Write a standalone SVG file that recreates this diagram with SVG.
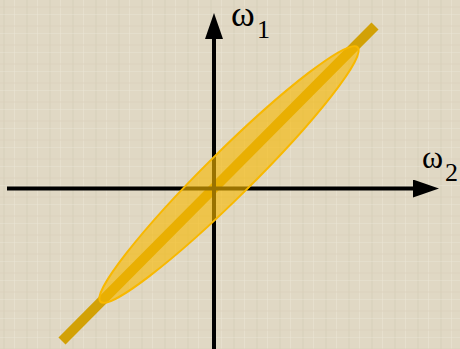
<svg xmlns="http://www.w3.org/2000/svg" width="460" height="349" viewBox="0 0 460 349">
  <defs>
    <pattern id="tex" width="23" height="19" patternUnits="userSpaceOnUse">
      <rect width="23" height="19" fill="#e0d8c4"/>
      <rect x="3" width="2" height="19" fill="#d5ccb6" opacity="0.4"/>
      <rect x="14" width="1" height="19" fill="#ebe5d5" opacity="0.5"/>
      <rect y="6" width="23" height="2" fill="#d8cfb9" opacity="0.35"/>
      <rect y="14" width="23" height="1" fill="#ece6d7" opacity="0.4"/>
    </pattern>
    <marker id="ah" viewBox="0 0 26 18" refX="0" refY="9" markerWidth="26" markerHeight="18" markerUnits="userSpaceOnUse" orient="auto">
      <path d="M0,0 L26,9 L0,18 Z" fill="#000"/>
    </marker>
    <style>
      .axis { stroke:#000; stroke-width:4; fill:none; }
      .lbl { font-family:"Liberation Serif","Times New Roman",serif; fill:#000; }
    </style>
  </defs>
  <rect width="460" height="349" fill="url(#tex)"/>
  <g id="connectors">
    <line id="diag" x1="62" y1="341" x2="375" y2="26" stroke="#d2a106" stroke-width="10"/>
    <line class="axis" x1="214" y1="349" x2="214" y2="39" marker-end="url(#ah)"/>
    <line class="axis" x1="7" y1="188.5" x2="413" y2="188.5" marker-end="url(#ah)"/>
  </g>
  <g id="ellipse">
    <ellipse cx="229" cy="174.5" rx="181" ry="23" transform="rotate(-44.7 229 174.5)" fill="#f7b800" fill-opacity="0.62" stroke="#f8b800" stroke-width="2"/>
  </g>
  <g id="label-w1">
    <text class="lbl" x="231" y="26" font-size="36">ω</text>
    <text class="lbl" x="257" y="38" font-size="26">1</text>
  </g>
  <g id="label-w2">
    <text class="lbl" x="422" y="168" font-size="32">ω</text>
    <text class="lbl" x="445" y="181" font-size="26">2</text>
  </g>
</svg>
